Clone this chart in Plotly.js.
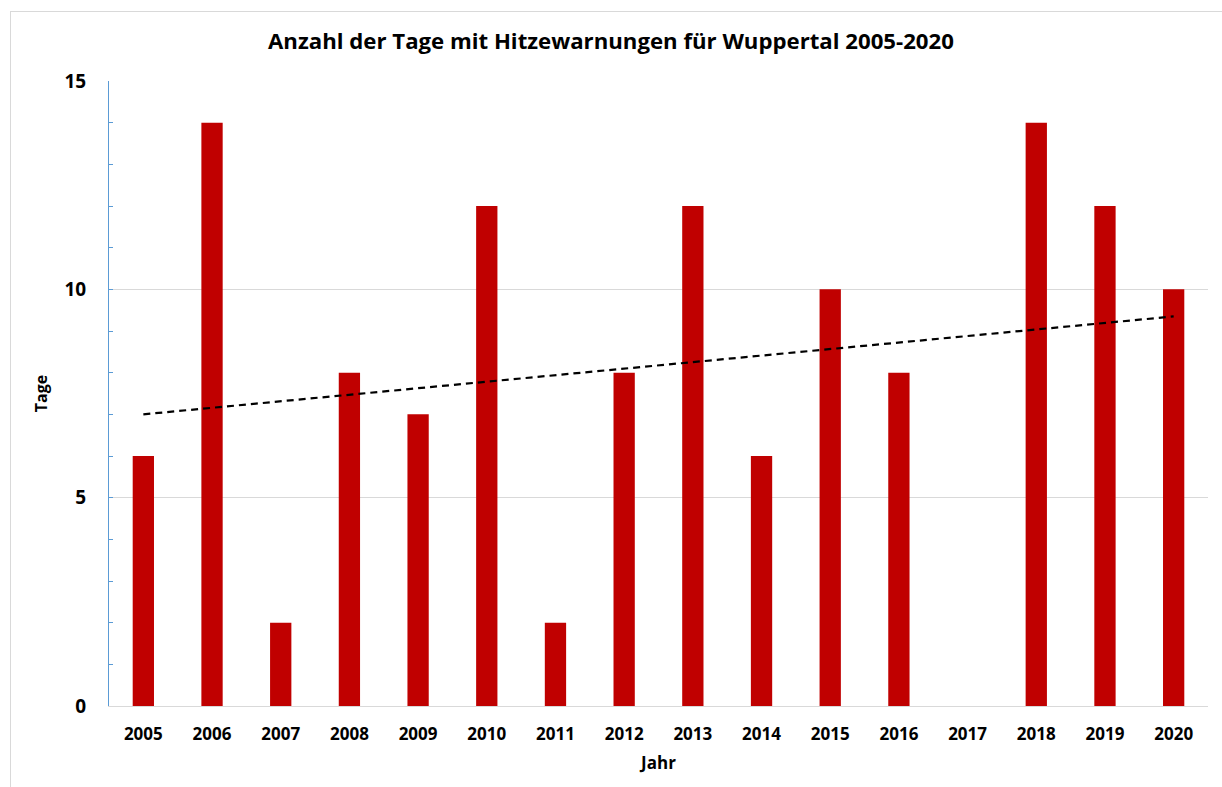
<!DOCTYPE html>
<html>
<head>
<meta charset="utf-8">
<script src="https://cdn.plot.ly/plotly-3.0.1.min.js"></script>
<style>
html,body{margin:0;padding:0;background:#fff;}
#wrap{position:relative;width:1222px;height:787px;}
#frame{position:absolute;left:10px;top:11px;width:1230px;height:800px;border-left:1px solid #d9d9d9;border-top:1px solid #d9d9d9;pointer-events:none;z-index:5;}
#chart{position:absolute;left:0;top:0;width:1222px;height:787px;}
</style>
</head>
<body>
<div id="wrap"><div id="chart"></div><div id="frame"></div></div>
<script>
const years = ['2005','2006','2007','2008','2009','2010','2011','2012','2013','2014','2015','2016','2017','2018','2019','2020'];
const tage = [6,14,2,8,7,12,2,8,12,6,10,8,0,14,12,10];
const trendYears = ['2005','2020'];
const trendValues = [7.0, 9.35];

const font = '"Open Sans", Lato, "Liberation Sans", sans-serif';

const data = [
  {type:'bar', x:years, y:tage, marker:{color:'#C00000'}, width:0.31, hoverinfo:'x+y'},
  {type:'scatter', mode:'lines', x:trendYears, y:trendValues, line:{color:'#000', width:2.2, dash:'7px,5px'}, hoverinfo:'skip'}
];

const layout = {
  width:1222, height:787,
  margin:{l:109, r:14, t:81, b:81},
  paper_bgcolor:'#fff', plot_bgcolor:'#fff',
  showlegend:false,
  font:{family:font, color:'#000'},
  title:{text:'<b>Anzahl der Tage mit Hitzewarnungen für Wuppertal 2005-2020</b>', font:{size:22.2, family:font, color:'#000'}, x:0.5, xanchor:'center', y:0.948, yanchor:'middle'},
  xaxis:{
    type:'category',
    showline:true, linecolor:'#d9d9d9', linewidth:1,
    ticks:'', showgrid:false, zeroline:false,
    tickfont:{size:17, family:font, color:'#000', weight:'bold'},
    ticklabelstandoff:13,
    title:{text:'<b>Jahr</b>', font:{size:17, family:font, color:'#000'}, standoff:12}
  },
  yaxis:{
    range:[0,15], dtick:5, tick0:0,
    showline:true, linecolor:'#5B9BD5', linewidth:1,
    ticks:'inside', ticklen:4, tickcolor:'#5B9BD5',
    minor:{dtick:1, ticks:'inside', ticklen:4, tickcolor:'#5B9BD5', showgrid:false},
    showgrid:true, gridcolor:'#d9d9d9', gridwidth:1, zeroline:false,
    tickfont:{size:19, family:font, color:'#000', weight:'bold'},
    ticklabelstandoff:18,
    title:{text:'<b>Tage</b>', font:{size:16, family:font, color:'#000'}, standoff:12}
  }
};

Plotly.newPlot('chart', data, layout, {displayModeBar:false, staticPlot:true});
</script>
</body>
</html>
